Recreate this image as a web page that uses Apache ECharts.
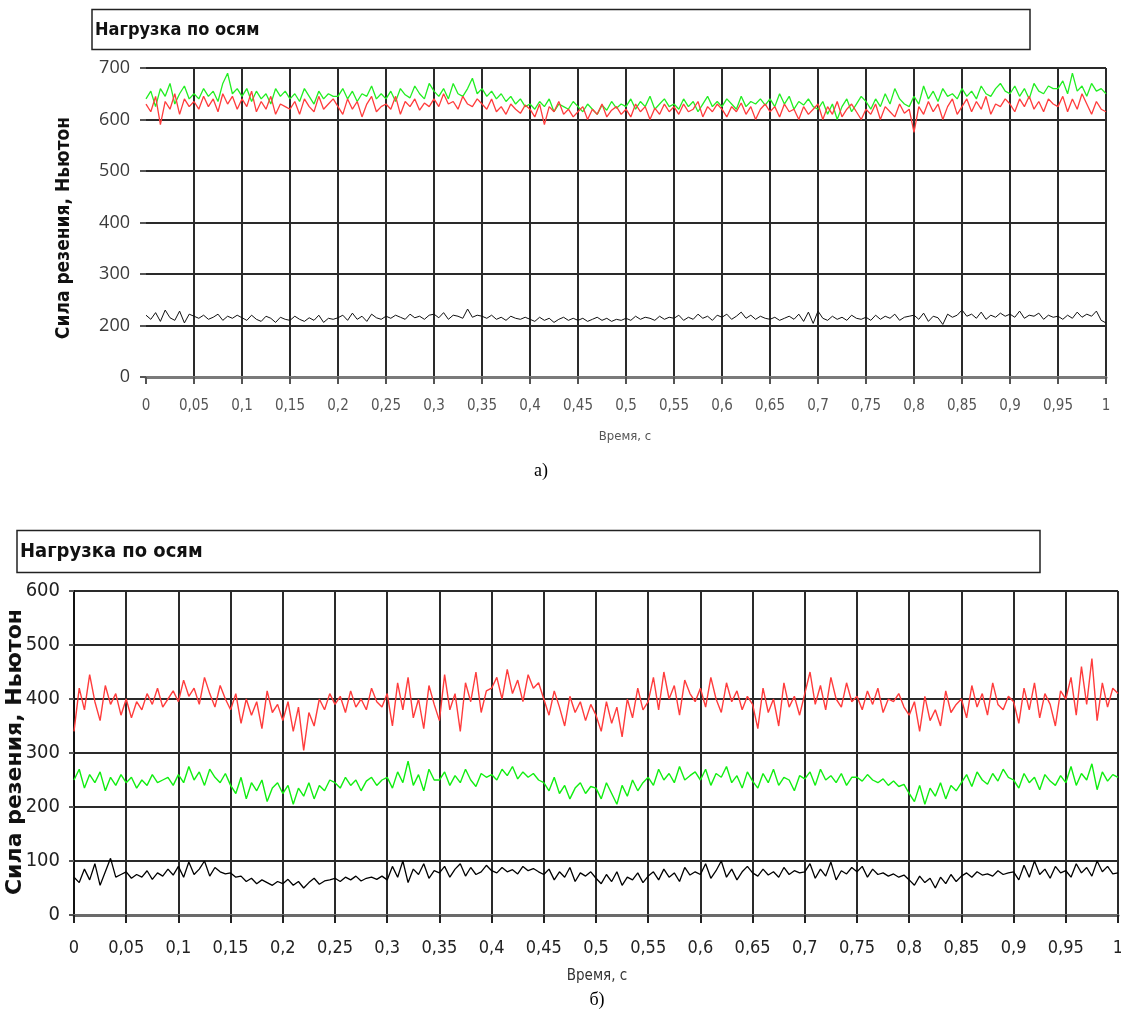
<!DOCTYPE html>
<html><head><meta charset="utf-8">
<script src="https://cdn.jsdelivr.net/npm/echarts@6/dist/echarts.min.js"></script>
<style>html,body{margin:0;padding:0;background:#fff}#c{width:1121px;height:1030px}</style>
</head><body><div id="c"></div>
<script>
// sample step, seconds
const T_STEP = 0.005;
const Y_TICKS_A = [0,200,300,400,500,600,700];

// ---- chart а) ----
const greenA = [
640,655,625,660,645,670,630,650,665,640, 650,640,660,645,655,635,670,690,650,660,
645,660,635,655,640,650,630,660,645,655, 640,650,635,660,645,630,655,640,650,645,
645,660,640,655,635,650,645,665,640,650, 640,655,635,660,648,642,665,650,640,670,
655,645,660,640,670,650,645,660,680,650, 660,645,655,640,650,635,645,630,640,625,
630,620,635,625,640,615,630,625,620,635, 625,615,630,620,610,628,618,635,622,630,
625,640,620,635,625,645,620,630,640,625, 630,620,640,625,635,615,630,645,625,635,
625,640,630,620,645,625,635,630,640,628, 640,625,650,630,645,620,635,628,640,625,
620,635,610,630,600,625,640,615,630,645, 635,620,640,625,650,630,660,640,630,625,
645,630,665,640,655,635,660,645,650,640, 660,645,655,640,665,650,645,660,670,655,
650,665,645,660,640,670,655,650,665,660, 660,675,650,690,655,665,645,670,655,660,
650];
const redA = [
630,615,645,590,635,620,650,610,640,625, 635,620,645,625,640,615,650,630,645,620,
640,625,655,615,635,620,645,610,630,625, 620,635,610,640,625,615,645,620,630,640,
625,610,640,620,635,605,630,645,615,625, 630,620,645,610,635,625,640,618,632,625,
640,625,650,630,635,620,645,630,625,640, 630,620,640,615,625,610,630,620,612,628,
620,605,630,590,625,615,635,610,620,605, 615,625,600,620,610,630,605,618,625,610,
620,605,630,615,625,600,622,610,630,615, 625,610,630,615,620,635,605,625,615,630,
620,605,625,615,632,610,625,600,620,630, 615,625,605,630,615,620,600,625,610,620,
630,600,625,610,635,605,620,630,615,600, 620,610,630,600,625,615,605,630,612,620,
575,625,610,635,615,630,600,625,640,610, 625,640,615,635,620,645,610,630,625,640,
630,615,640,625,645,620,635,615,640,630, 625,645,615,640,620,650,630,610,635,620,
615];
const blackA = [
220,212,225,208,230,215,210,228,205,222, 218,214,220,212,216,222,210,218,214,220,
215,210,220,212,208,218,214,206,216,212, 210,218,212,208,215,210,220,206,214,212,
215,220,210,224,212,218,208,222,215,212, 218,214,220,216,212,222,215,218,212,220,
222,215,225,212,220,218,214,232,216,220, 218,214,220,212,216,210,218,214,212,216,
212,208,216,210,214,206,212,216,210,214, 210,214,208,212,216,210,214,208,212,210,
214,210,218,212,216,214,210,218,212,216, 214,220,210,216,212,222,214,218,210,220,
216,222,212,218,226,214,220,212,218,214, 212,216,210,214,218,212,222,208,226,204,
228,214,210,218,212,216,210,220,214,212, 216,210,220,212,218,214,222,210,216,218,
220,212,224,208,218,215,202,222,216,220, 230,218,222,214,226,212,220,216,224,218,
222,216,228,214,220,218,224,212,220,216, 218,212,220,214,226,216,222,218,228,210,
205];

// ---- chart б) ----
const redB = [
340,420,380,445,395,360,425,390,410,370, 400,365,395,380,410,390,420,385,400,415,
395,435,405,420,390,440,410,385,425,400, 380,410,355,400,370,395,345,415,375,390,
360,395,340,385,305,375,350,400,380,410, 390,405,375,415,385,400,380,420,395,385,
410,350,430,380,440,365,400,345,425,390, 360,445,380,410,340,430,395,450,375,415,
420,440,400,455,410,435,395,445,420,430, 400,370,415,385,350,405,375,395,360,390,
370,340,395,355,385,330,400,365,420,380, 395,440,380,450,400,425,370,435,410,395,
420,385,440,400,375,430,395,415,380,405, 390,345,420,375,400,350,430,385,405,370,
410,450,390,425,380,440,400,385,430,395, 405,380,415,390,420,375,400,395,410,385,
370,395,340,405,360,380,350,415,375,390, 400,365,425,385,410,370,430,390,380,405,
395,355,420,380,430,365,410,390,350,415, 400,440,370,460,390,475,360,430,385,420,
410];
const greenB = [
250,270,235,260,245,265,230,255,240,260, 245,255,235,250,240,260,245,250,255,240,
260,245,275,250,265,240,270,255,245,262, 240,225,255,215,245,230,250,210,235,245,
225,240,205,235,220,245,215,240,230,250, 245,235,255,240,250,230,248,255,240,250,
255,235,265,245,285,240,260,230,270,250, 250,265,240,258,245,270,250,238,262,255,
260,250,270,258,275,252,265,255,262,250, 245,230,255,225,240,215,235,245,225,238,
235,215,245,225,205,240,220,250,230,245, 255,240,270,250,262,245,275,250,258,265,
250,270,240,262,255,275,245,258,235,265, 248,235,262,245,270,240,255,250,230,258,
252,265,240,270,250,258,245,262,240,255, 255,248,260,250,245,252,240,248,238,242,
225,210,240,205,235,220,245,215,240,230, 245,260,238,265,250,242,262,248,270,255,
250,235,262,245,255,232,260,248,240,258, 245,275,240,262,250,280,232,265,248,260,
255];
const blackB = [
70,60,85,65,95,55,80,105,70,75, 80,68,75,70,82,66,78,72,85,74,
90,70,98,75,85,100,72,88,80,76, 78,70,72,62,68,58,65,60,55,62,
58,66,55,62,50,60,68,57,63,65, 68,62,70,65,72,63,68,70,66,72,
65,90,70,100,60,85,75,95,68,82, 78,90,70,85,95,72,88,75,80,92,
82,78,88,80,84,76,90,82,86,80, 75,85,65,80,70,88,62,78,72,80,
68,58,75,62,80,55,70,65,78,60, 72,80,65,85,70,78,62,88,74,80,
75,95,68,82,100,70,85,65,80,90, 78,72,85,74,80,70,88,75,82,78,
80,95,68,85,72,98,65,82,76,88, 80,90,70,85,75,78,72,76,70,74,
65,55,72,60,68,50,70,58,75,62, 72,78,70,80,74,76,72,82,75,78,
80,65,92,70,100,75,85,68,90,78, 82,70,95,78,88,72,100,80,90,76,
78];

const TITLE = 'Нагрузка по осям';
const Y_NAME = 'Сила резения, Ньютон';
const X_NAME = 'Время, с';

function pairs(arr){ return arr.map((v,i)=>[+(i*T_STEP).toFixed(3), v]); }
function xfmt(v){ return String(+(+v).toFixed(2)).replace('.', ','); }

const FAM = '"DejaVu Sans", sans-serif';
const GRID_LINE = {show:true, lineStyle:{color:'#2a2a2a', width:2}};

const chart = echarts.init(document.getElementById('c'), null, {renderer:'canvas'});
chart.setOption({
  animation:false,
  backgroundColor:'#fff',
  grid:[
    {left:146, top:68, width:960, height:309, outerBoundsMode:'none', containLabel:false},
    {left:74, top:591, width:1044, height:324, outerBoundsMode:'none', containLabel:false}
  ],
  xAxis:[
    {gridIndex:0, type:'value', min:0, max:1, interval:0.05,
     axisLine:{show:true, lineStyle:{color:'#7a7a7a', width:3}},
     axisTick:{show:true, length:7, lineStyle:{color:'#555', width:2}},
     axisLabel:{formatter:xfmt, margin:22, fontStyle:'condensed', fontFamily:FAM, fontSize:15, color:'#555'},
     splitLine:Object.assign({showMinLine:false}, GRID_LINE)},
    {gridIndex:1, type:'value', min:0, max:1, interval:0.05,
     axisLine:{show:true, lineStyle:{color:'#6a6a6a', width:3}},
     axisTick:{show:true, length:8, lineStyle:{color:'#222', width:2}},
     axisLabel:{formatter:xfmt, margin:24, fontStyle:'condensed', fontFamily:FAM, fontSize:18, color:'#222'},
     splitLine:GRID_LINE}
  ],
  yAxis:[
    {gridIndex:0, type:'value', min:100, max:700, interval:100,
     axisLine:{show:false},
     axisTick:{show:true, length:6, lineStyle:{color:'#555', width:2}},
     axisLabel:{formatter:v=> v===100 ? String(Y_TICKS_A[0]) : String(v), margin:16,
                fontFamily:'"Open Sans", sans-serif', fontSize:18, color:'#3a3a3a'},
     splitLine:Object.assign({showMinLine:false}, GRID_LINE)},
    {gridIndex:1, type:'value', min:0, max:600, interval:100,
     axisLine:{show:true, lineStyle:{color:'#111', width:2}},
     axisTick:{show:true, length:5, lineStyle:{color:'#555', width:2}},
     axisLabel:{margin:14, fontStyle:'condensed', fontFamily:FAM, fontSize:20, color:'#222'},
     splitLine:Object.assign({showMinLine:false}, GRID_LINE)}
  ],
  series:[
    {type:'line', xAxisIndex:0, yAxisIndex:0, data:pairs(greenA), showSymbol:false, lineStyle:{color:'#22ee22', width:1.3}, itemStyle:{color:'#22ee22'}},
    {type:'line', xAxisIndex:0, yAxisIndex:0, data:pairs(redA), showSymbol:false, lineStyle:{color:'#ff3c3c', width:1.3}, itemStyle:{color:'#ff3c3c'}},
    {type:'line', xAxisIndex:0, yAxisIndex:0, data:pairs(blackA), showSymbol:false, lineStyle:{color:'#111', width:1}, itemStyle:{color:'#111'}},
    {type:'line', xAxisIndex:1, yAxisIndex:1, data:pairs(redB), showSymbol:false, lineStyle:{color:'#ff3c3c', width:1.4}, itemStyle:{color:'#ff3c3c'}},
    {type:'line', xAxisIndex:1, yAxisIndex:1, data:pairs(greenB), showSymbol:false, lineStyle:{color:'#11ee11', width:1.4}, itemStyle:{color:'#11ee11'}},
    {type:'line', xAxisIndex:1, yAxisIndex:1, data:pairs(blackB), showSymbol:false, lineStyle:{color:'#000', width:1.3}, itemStyle:{color:'#000'}}
  ],
  graphic:[
    {type:'rect', shape:{x:92, y:9.5, width:938, height:40}, style:{fill:'#fff', stroke:'#222', lineWidth:1.5}},
    {type:'text', x:95, y:30, style:{text:TITLE, font:'condensed bold 18px '+FAM, fill:'#111', textVerticalAlign:'middle'}},
    {type:'rect', shape:{x:17, y:530.5, width:1023, height:42}, style:{fill:'#fff', stroke:'#222', lineWidth:1.5}},
    {type:'text', x:20, y:552, style:{text:TITLE, font:'condensed bold 20px '+FAM, fill:'#111', textVerticalAlign:'middle'}},
    {type:'text', x:64, y:228, rotation:Math.PI/2, style:{text:Y_NAME, font:'condensed bold 19px '+FAM, fill:'#111', textAlign:'center', textVerticalAlign:'middle'}},
    {type:'text', x:15, y:752, rotation:Math.PI/2, style:{text:Y_NAME, font:'bold 22px '+FAM, fill:'#111', textAlign:'center', textVerticalAlign:'middle'}},
    {type:'text', x:625, y:437, style:{text:X_NAME, font:'condensed 13px '+FAM, fill:'#555', textAlign:'center', textVerticalAlign:'middle'}},
    {type:'text', x:597, y:976, style:{text:X_NAME, font:'condensed 15px '+FAM, fill:'#333', textAlign:'center', textVerticalAlign:'middle'}},
    {type:'text', x:541, y:471, style:{text:'а)', font:'18px "Liberation Serif", serif', fill:'#000', textAlign:'center', textVerticalAlign:'middle'}},
    {type:'text', x:597, y:1000, style:{text:'б)', font:'18px "Liberation Serif", serif', fill:'#000', textAlign:'center', textVerticalAlign:'middle'}}
  ]
});
</script>
</body></html>
